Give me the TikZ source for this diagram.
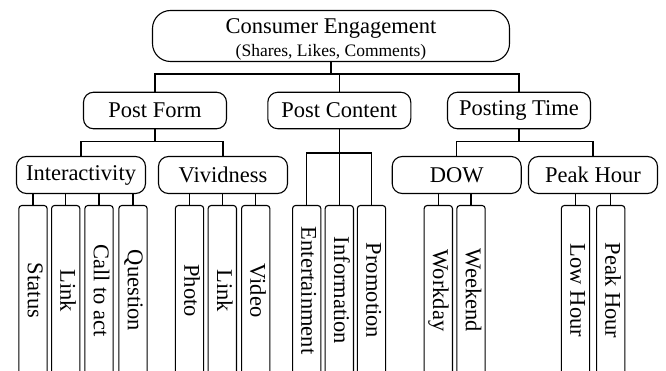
\documentclass[tikz,border=0pt]{standalone}
\usepackage{fontspec}
\setmainfont{Liberation Serif}
\usetikzlibrary{positioning}

\begin{document}
\begin{tikzpicture}[
  x=1pt, y=-1pt,
  line width=1.1pt,
  box/.style={draw, rounded corners=10pt, minimum width=143pt,
    minimum height=36.5pt, inner sep=0pt, font=\fontsize{22.5}{26}\selectfont},
  rootbox/.style={box, rounded corners=18pt, minimum width=357pt,
    minimum height=51pt, align=center},
  subbox/.style={box, minimum width=129pt, minimum height=37pt},
  leaf/.style={draw, rotate=-90, rounded corners=3pt, minimum width=170pt,
    minimum height=28.3pt, inner sep=0pt, text height=15.5pt, text depth=5pt,
    font=\fontsize{22.5}{26}\selectfont},
]
\useasboundingbox (0,0) rectangle (666,371);
\clip (0,0) rectangle (666,371);

% --- top ---
\node[rootbox] (root) at (331,36)
  {\rule{0pt}{21pt}Consumer Engagement\\[-3pt]{\fontsize{17.5}{20}\selectfont (Shares, Likes, Comments)}};

% --- second level ---
\node[box] (pform) at (155,110.5) {Post Form};
\node[box] (pcont) at (339.3,110.5) {Post Content};
\node[box] (ptime) at (519,110.5) {Posting Time};

\draw (root.south) -- ++(0,12) -| (pform.north);
\draw (root.south) ++(0,12) -| (pcont.north);
\draw (root.south) ++(0,12) -| (ptime.north);

% --- third level ---
\node[subbox] (inter) at (81,175) {Interactivity};
\node[subbox] (vivid) at (223,175) {Vividness};
\node[subbox] (dow) at (456.7,175) {DOW};
\node[subbox] (peak) at (593,175) {Peak Hour};

\draw (pform.south) -- ++(0,12.4) -| (inter.north);
\draw (pform.south) ++(0,12.4) -| (vivid.north);
\draw (ptime.south) -- ++(0,12.4) -| (dow.north);
\draw (ptime.south) ++(0,12.4) -| (peak.north);

% --- leaves ---
\node[leaf] (status) at (33,290.5) {Status};
\node[leaf] (link1) at (65.7,290.5) {Link};
\node[leaf] (call) at (99,290.5) {Call to act};
\node[leaf] (question) at (133,290.5) {Question};

\node[leaf] (photo) at (189.5,290.5) {Photo};
\node[leaf] (link2) at (222.3,290.5) {Link};
\node[leaf] (video) at (255.7,290.5) {Video};

\node[leaf] (ent) at (306.7,290.5) {Entertainment};
\node[leaf] (info) at (339.3,290.5) {Information};
\node[leaf] (promo) at (371.5,290.5) {Promotion};

\node[leaf] (workday) at (438.3,290.5) {Workday};
\node[leaf] (weekend) at (471,290.5) {Weekend};

\node[leaf] (low) at (575.5,290.5) {Low Hour};
\node[leaf] (peakh) at (610.7,290.5) {Peak Hour};

\draw (inter.south -| status.west) -- (status.west);
\draw (inter.south -| link1.west) -- (link1.west);
\draw (inter.south -| call.west) -- (call.west);
\draw (inter.south -| question.west) -- (question.west);

\draw (vivid.south -| photo.west) -- (photo.west);
\draw (vivid.south -| link2.west) -- (link2.west);
\draw (vivid.south -| video.west) -- (video.west);

% content branch goes straight down to the leaves
\coordinate (cbar) at (339.3,153);
\draw (pcont.south) -- (info.west);
\draw (ent.west) |- (cbar) -| (promo.west);

\draw (dow.south -| workday.west) -- (workday.west);
\draw (dow.south -| weekend.west) -- (weekend.west);

\draw (peak.south -| low.west) -- (low.west);
\draw (peak.south -| peakh.west) -- (peakh.west);

\end{tikzpicture}
\end{document}
